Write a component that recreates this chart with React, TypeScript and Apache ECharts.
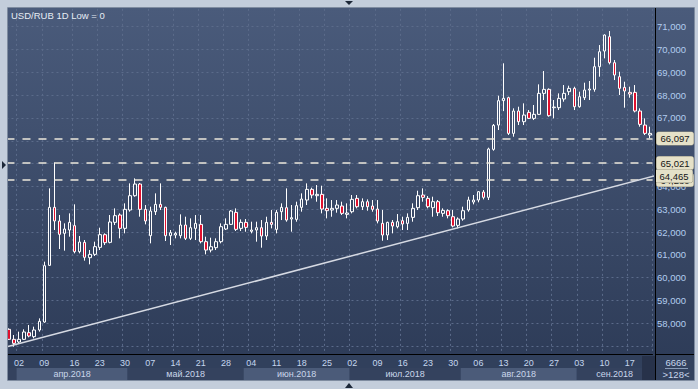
import React, { useEffect, useRef } from "react";
import * as echarts from "echarts";

// ---- data (OHLC) ----
const opens = [
  57735, 57297, 57180, 57297, 57589, 57414, 57706, 58056, 60540, 63082,
  62483, 61943, 62089, 62279, 61139, 61548, 60876, 61022, 61329, 61884,
  61548, 62425, 62746, 62162, 62965, 63593, 64104, 62994, 61840, 62892,
  63213, 63082, 61840, 61869, 61840, 62307, 61723, 62161, 62336, 61577,
  61211, 61314, 61577, 62132, 62336, 62862, 62161, 62424, 62030, 62088,
  62190, 61825, 62424, 62117, 62892, 63067, 62570, 62555, 63082, 63403,
  63870, 63593, 63651, 63038, 62965, 63038, 63140, 62775, 62891, 63476,
  63111, 63330, 63140, 63008, 62380, 61869, 62424, 62234, 62497, 62380,
  62643, 63067, 63622, 63476, 63067, 63330, 62819, 62935, 62672, 62293,
  62570, 62965, 63315, 63403, 63753, 63520, 65624, 66690, 67760, 67888,
  66325, 67304, 66836, 67245, 66982, 67158, 68078, 68253, 67450, 67450,
  67830, 68151, 68297, 67494, 67888, 68224, 68253, 69247, 69933, 70562,
  69422, 68808, 68341, 68122, 68122, 67304, 66690, 66252,
];
const closes = [
  57297, 57121, 57297, 57618, 57443, 57706, 58085, 60525, 63082, 62483,
  61899, 62133, 62425, 61139, 61563, 60891, 61022, 61358, 61884, 61534,
  62440, 62717, 62162, 62995, 63593, 64104, 62994, 62483, 62921, 63213,
  63082, 61840, 61971, 61942, 62307, 61723, 62190, 62380, 61577, 61211,
  61357, 61577, 62234, 62336, 62921, 62117, 62424, 62205, 62088, 62190,
  61825, 62424, 62336, 62862, 63082, 62526, 62629, 63155, 63447, 63870,
  63622, 63651, 63008, 62936, 63038, 63184, 62819, 62833, 63432, 63111,
  63330, 63111, 62994, 62482, 61869, 62424, 62263, 62453, 62351, 62643,
  63038, 63593, 63520, 63111, 63330, 62848, 62950, 62716, 62263, 62570,
  62935, 63403, 63403, 63768, 63520, 65638, 66675, 67757, 67860, 66325,
  67304, 66836, 67128, 66982, 67158, 68078, 68253, 67099, 67479, 67859,
  68078, 68297, 67494, 67932, 68224, 68268, 69247, 69904, 70635, 69422,
  68882, 68297, 68180, 68049, 67304, 66719, 66325, 66325,
];
const lows = [
  57268, 56975, 57092, 57268, 57384, 57340, 57633, 58027, 60525, 62089,
  61256, 61183, 61796, 61066, 61066, 60745, 60584, 60949, 61212, 61431,
  61504, 62308, 61723, 61942, 62892, 63549, 62673, 62336, 61504, 62746,
  62965, 61606, 61431, 61723, 61723, 61650, 61650, 61650, 61504, 61021,
  61109, 61211, 61504, 62088, 62307, 62044, 62044, 62015, 61942, 61577,
  61314, 61650, 62161, 61942, 62526, 62453, 62015, 62453, 62892, 63184,
  63476, 63330, 62819, 62599, 62672, 62848, 62745, 62599, 62819, 63038,
  62965, 62935, 62891, 62380, 61620, 61650, 61942, 62161, 62088, 62088,
  62453, 62965, 63330, 63038, 62672, 62701, 62672, 62599, 62205, 62161,
  62497, 62891, 63213, 63301, 63432, 63403, 65565, 66471, 67300, 66252,
  66179, 66690, 66690, 66953, 66909, 67128, 67786, 67055, 66982, 67347,
  67713, 68005, 67347, 67450, 67786, 67786, 68151, 68808, 69612, 69349,
  68662, 68005, 67450, 67888, 67245, 66617, 66252, 66106,
];
const highs = [
  57779, 57486, 57633, 57735, 57925, 57852, 58217, 60701, 63915, 65054,
  62746, 62381, 62819, 63214, 61826, 61650, 61212, 61577, 62191, 61942,
  62746, 63038, 62819, 63257, 64134, 64353, 64150, 63184, 63111, 63695,
  64133, 63111, 62088, 62015, 62775, 62673, 62599, 62745, 62745, 61796,
  61752, 61723, 62380, 62599, 62965, 63038, 62555, 62570, 62453, 62453,
  62526, 62672, 62965, 62965, 63257, 63914, 63184, 63330, 63695, 64133,
  63944, 64060, 64031, 63476, 63403, 63403, 63330, 63257, 63622, 63622,
  63476, 63432, 63403, 63403, 62965, 62453, 62526, 62789, 62672, 62818,
  63257, 63812, 63914, 63578, 63549, 63403, 63038, 62994, 62965, 62643,
  63111, 63549, 63622, 63797, 63841, 65697, 66734, 67976, 69395, 67932,
  67421, 67494, 67640, 67347, 67567, 68473, 69057, 68297, 67786, 68078,
  68443, 68414, 68370, 68151, 68546, 68619, 69641, 70196, 70664, 70810,
  69539, 69028, 68589, 68370, 68443, 67421, 66982, 66617,
];

const levelLines = [64280, 65021, 66097];
const lastPrice = 66325;
const trendX = [-0.2, 128];
const trendY = [56982, 64465];
const hiddenTicks = [56000, 57000, 72000];
const monthNames = ["янв", "фев", "мар", "апр", "май", "июн", "июл", "авг", "сен", "окт", "ноя", "дек"];
const titleText = "USD/RUB 1D Low = 0";
const cornerTop = "6666";
const cornerBottom = ">128<";

function buildDates(): string[] {
  const out: string[] = [];
  const d = new Date(Date.UTC(2018, 2, 29));
  const end = Date.UTC(2018, 8, 21);
  while (d.getTime() <= end) {
    const wd = d.getUTCDay();
    const iso = d.toISOString().slice(0, 10);
    if ((wd >= 1 && wd <= 5) || iso === "2018-04-15") out.push(iso);
    d.setUTCDate(d.getUTCDate() + 1);
  }
  return out;
}
const dates = buildDates();
const isMonday = (i: number) => new Date(dates[i] + "T00:00:00Z").getUTCDay() === 1;

function buildMonths() {
  const res: { start: number; end: number; label: string; light: number }[] = [];
  dates.forEach((d, i) => {
    const m = parseInt(d.slice(5, 7), 10) - 1;
    const label = monthNames[m] + "." + d.slice(0, 4);
    const last = res[res.length - 1];
    if (last && last.label === label) last.end = i;
    else res.push({ start: i, end: i, label, light: m % 2 === 1 ? 1 : 0 });
  });
  return res;
}
const months = buildMonths();

const FONT = '"Liberation Sans", Arial, sans-serif';
const fmt = (v: number) => Math.round(v).toLocaleString("en-US");

export default function App() {
  const ref = useRef<HTMLDivElement>(null);
  useEffect(() => {
    if (!ref.current) return;
    const chart = echarts.init(ref.current, undefined, { renderer: "svg" });
    const N = dates.length;
    const band = 5.047;
    const gridLeft = 9 - band / 2;
    const gridWidth = band * N;
    const yTop = 3.885;
    const yH = 365.04;
    const axisY = 354;
    const frameBottom = 380;
    const frameRight = 694;

    const frame = "#c3cddb";
    const lbl = {
      backgroundColor: "#e5e1c8",
      color: "#151515",
      fontSize: 9.5,
      fontFamily: FONT,
      padding: [2, 4, 1, 4],
      borderRadius: 2,
      borderColor: "#9a9784",
      borderWidth: 0.5,
    };

    const option: any = {
      animation: false,
      backgroundColor: frame,
      graphic: [
        {
          type: "rect", z: -10, silent: true,
          shape: { x: 8, y: 8, width: frameRight - 8, height: frameBottom - 8 },
          style: {
            fill: new echarts.graphic.LinearGradient(0, 0, 0, 1, [
              { offset: 0, color: "#4a5b7b" },
              { offset: 1, color: "#2c3a56" },
            ]),
          },
        },
        { type: "rect", z: 10, silent: true, shape: { x: 8, y: axisY, width: 647, height: frameBottom - axisY }, style: { fill: "#31405c" } },
        { type: "rect", z: 40, silent: true, shape: { x: 642, y: 356, width: 13, height: frameBottom - 356 }, style: { fill: "#27324a" } },
        { type: "rect", z: 10, silent: true, shape: { x: 655, y: axisY, width: frameRight - 655, height: frameBottom - axisY }, style: { fill: "#33425e" } },
        { type: "line", z: 50, silent: true, shape: { x1: 655.5, y1: 8, x2: 655.5, y2: frameBottom }, style: { stroke: "#000", lineWidth: 1 } },
        { type: "line", z: 50, silent: true, shape: { x1: 655, y1: 354.5, x2: frameRight, y2: 354.5 }, style: { stroke: "#000", lineWidth: 1 } },
        { type: "text", z: 50, silent: true, style: { text: cornerTop, x: 676, y: 362, align: "center", verticalAlign: "middle", fill: "#c7d6ec", font: "9.5px " + FONT } },
        { type: "line", z: 50, silent: true, shape: { x1: 665, y1: 368.5, x2: 688, y2: 368.5 }, style: { stroke: "#8a9cb8", lineWidth: 1 } },
        { type: "text", z: 50, silent: true, style: { text: cornerBottom, x: 676, y: 374.5, align: "center", verticalAlign: "middle", fill: "#c7d6ec", font: "9.5px " + FONT } },
        { type: "text", z: 50, silent: true, style: { text: titleText, x: 11, y: 10, fill: "#e6ecf4", font: "9.5px " + FONT } },
        // outer frame
        { type: "rect", z: 100, silent: true, shape: { x: 0, y: 0, width: 698, height: 8 }, style: { fill: frame } },
        { type: "rect", z: 100, silent: true, shape: { x: 0, y: 0, width: 8, height: 389 }, style: { fill: frame } },
        { type: "rect", z: 100, silent: true, shape: { x: frameRight, y: 0, width: 698 - frameRight, height: 389 }, style: { fill: frame } },
        { type: "rect", z: 100, silent: true, shape: { x: 0, y: frameBottom, width: 698, height: 389 - frameBottom }, style: { fill: frame } },
        { type: "rect", z: 101, silent: true, shape: { x: 7.5, y: 7.5, width: frameRight - 7, height: frameBottom - 7 }, style: { fill: "none", stroke: "#7f8ca0", lineWidth: 1 } },
        { type: "polygon", z: 102, silent: true, shape: { points: [[345, 1], [353, 1], [349, 5]] }, style: { fill: "#1c2738" } },
        { type: "polygon", z: 102, silent: true, shape: { points: [[2, 161], [2, 169], [6, 165]] }, style: { fill: "#1c2738" } },
        { type: "polygon", z: 102, silent: true, shape: { points: [[345, 388], [353, 388], [349, 383]] }, style: { fill: "#1c2738" } },
      ],
      grid: [
        { left: gridLeft, top: yTop, width: gridWidth, height: yH },
        { left: gridLeft, top: 368, width: gridWidth, height: frameBottom - 368 },
      ],
      xAxis: [
        {
          type: "category", gridIndex: 0, data: dates, boundaryGap: true,
          axisLine: { show: false, onZero: false }, axisTick: { show: false }, axisLabel: { show: false },
          splitLine: { show: true, interval: (i: number) => isMonday(i), lineStyle: { color: "#5b6b8a", type: [2, 3], width: 1 } },
        },
        {
          type: "category", gridIndex: 0, data: dates, boundaryGap: true, position: "bottom",
          offset: -(yTop + yH - axisY), z: 20,
          axisLine: { show: true, onZero: false, lineStyle: { color: "#000", width: 1 } },
          axisTick: { show: false },
          splitLine: { show: false },
          axisLabel: {
            interval: (i: number) => isMonday(i),
            formatter: (v: string) => v.slice(8, 10),
            color: "#c4d6ee", fontSize: 9, fontFamily: FONT, margin: 4,
          },
        },
        { type: "category", gridIndex: 1, data: dates, show: false, boundaryGap: true },
        { type: "value", gridIndex: 0, min: -0.5, max: N - 0.5, show: false },
      ],
      yAxis: [
        {
          type: "value", gridIndex: 0, position: "right", min: 56000, max: 72000, interval: 1000,
          axisLine: { show: false }, axisTick: { show: false },
          splitLine: { show: true, lineStyle: { color: "#5b6b8a", type: [2, 3], width: 1 } },
          axisLabel: {
            formatter: (v: number) => (hiddenTicks.includes(v) ? "" : fmt(v)),
            color: "#b2cdef", fontSize: 9.5, fontFamily: FONT, margin: 4.5,
          },
        },
        { type: "value", gridIndex: 1, min: 0, max: 1, show: false },
      ],
      series: [
        {
          type: "candlestick", xAxisIndex: 0, yAxisIndex: 0, barWidth: 3,
          data: opens.map((o, i) => [o, closes[i], lows[i], highs[i]]),
          itemStyle: { color: "rgba(0,0,0,0)", color0: "#e0102e", borderColor: "#ffffff", borderColor0: "#ffffff", borderWidth: 1 },
          markLine: {
            silent: true, symbol: ["none", "none"], animation: false, z: 5,
            lineStyle: { color: "#ebe8dc", type: [8, 8], width: 1.5 },
            label: { show: true, position: "end", distance: 4, formatter: (p: any) => fmt(p.value), ...lbl },
            data: [
              { yAxis: lastPrice, lineStyle: { opacity: 0 } },
              ...levelLines.map((v) => ({ yAxis: v })),
            ],
          },
        },
        {
          type: "line", xAxisIndex: 3, yAxisIndex: 0, z: 8, clip: false, symbol: "none",
          data: trendX.map((x, i) => [x, trendY[i]]),
          lineStyle: { color: "#d6dae3", width: 1.5 },
          endLabel: { show: true, distance: 1.5, formatter: () => fmt(trendY[trendY.length - 1]), ...lbl },
        },
        {
          type: "custom", xAxisIndex: 2, yAxisIndex: 1, z: 30,
          data: months.map((m) => [m.start, m.end, m.light]),
          encode: { x: [0, 1] },
          renderItem: (params: any, api: any) => {
            const s = api.value(0);
            const e = api.value(1);
            const light = api.value(2);
            const bw = api.size([1, 0])[0];
            const p0 = api.coord([s, 0]);
            const p1 = api.coord([e, 0]);
            const cs = params.coordSys;
            const x0 = p0[0] - bw / 2;
            const x1 = p1[0] + bw / 2;
            const label = months[params.dataIndex].label;
            return {
              type: "group",
              children: [
                { type: "rect", shape: { x: x0, y: cs.y, width: x1 - x0, height: cs.height }, style: { fill: light ? "#4b5b79" : "#34425e" } },
                {
                  type: "text",
                  style: {
                    text: x1 - x0 > 40 ? label : "", x: (x0 + x1) / 2, y: cs.y + cs.height / 2,
                    align: "center", verticalAlign: "middle", fill: "#c9d6ea", font: "9px " + FONT,
                  },
                },
              ],
            };
          },
        },
      ],
    };
    chart.setOption(option);
    return () => chart.dispose();
  }, []);
  return <div ref={ref} style={{ position: "fixed", left: 0, top: 0, width: 698, height: 389 }} />;
}
